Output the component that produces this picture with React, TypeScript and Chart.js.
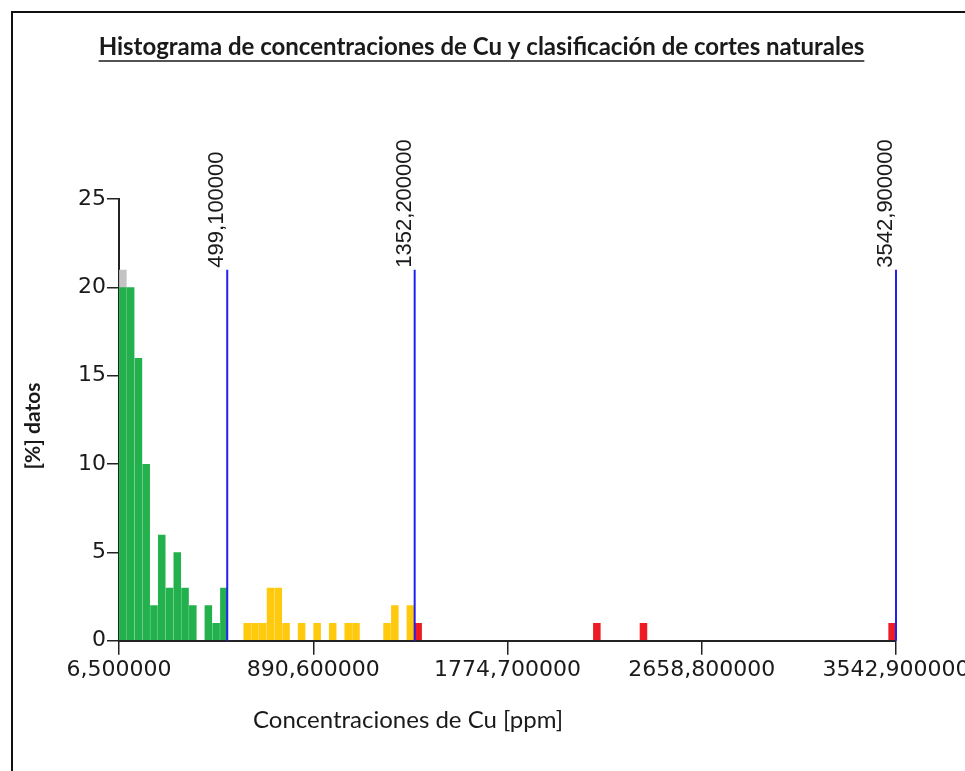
import React, { useEffect, useRef } from "react";
import { Chart, registerables } from "chart.js";

Chart.register(...registerables);

// ---- data ----
const X_MIN = 6.5;
const X_MAX = 3542.9;
const BIN_COUNT = 100;
const xTickValues = [6.5, 890.6, 1774.7, 2658.8, 3542.9];
const yTickValues = [0, 5, 10, 15, 20, 25];
const breakValues = [499.1, 1352.2, 3542.9];
const breakLabels = ["499,100000", "1352,200000", "3542,900000"];

// bin index -> % datos, per natural-break class
const greyBins = [0];
const greyPct = [21];
const greenBins = [0, 1, 2, 3, 4, 5, 6, 7, 8, 9, 11, 12, 13];
const greenPct = [20, 20, 16, 10, 2, 6, 3, 5, 3, 2, 2, 1, 3];
const yellowBins = [16, 17, 18, 19, 20, 21, 23, 25, 27, 29, 30, 34, 35, 37];
const yellowPct = [1, 1, 1, 3, 3, 1, 1, 1, 1, 1, 1, 1, 2, 2];
const redBins = [38, 61, 67, 99];
const redPct = [1, 1, 1, 1];

const TITLE = "Histograma de concentraciones de Cu y clasificación de cortes naturales";
const X_TITLE = "Concentraciones de Cu [ppm]";
const Y_TITLE = "[%] datos";

const BIN_W = (X_MAX - X_MIN) / BIN_COUNT;
const toPoints = (bins: number[], pct: number[]) =>
  bins.map((b, i) => ({ x: X_MIN + (b + 0.5) * BIN_W, y: pct[i] }));
const fmt = (v: number) => v.toFixed(6).replace(".", ",");

const LINE_TOP = Math.max(...greyPct);

const textPlugin = {
  id: "texts",
  afterDraw(chart: any) {
    const ctx = chart.ctx;
    const xs = chart.scales.x;
    const ys = chart.scales.y;
    ctx.save();
    // title
    ctx.fillStyle = "#1a1a1a";
    ctx.font = "bold 24px Lato";
    ctx.textAlign = "center";
    ctx.textBaseline = "alphabetic";
    const tx = 481.5;
    const ty = 55;
    ctx.fillText(TITLE, tx, ty);
    const w = ctx.measureText(TITLE).width;
    ctx.strokeStyle = "#1a1a1a";
    ctx.lineWidth = 1.5;
    ctx.beginPath();
    ctx.moveTo(tx - w / 2, ty + 6);
    ctx.lineTo(tx + w / 2, ty + 6);
    ctx.stroke();
    // x title
    ctx.font = "24px Lato";
    ctx.textBaseline = "middle";
    ctx.fillText(X_TITLE, 408, 720);
    // y title
    ctx.save();
    ctx.translate(33, 426);
    ctx.rotate(-Math.PI / 2);
    ctx.font = "bold 21px Lato";
    ctx.fillText(Y_TITLE, 0, 0);
    ctx.restore();
    // break labels
    ctx.font = "22px 'Liberation Sans'";
    ctx.textAlign = "left";
    ctx.textBaseline = "alphabetic";
    breakValues.forEach((v, i) => {
      const px = xs.getPixelForValue(v);
      const py = ys.getPixelForValue(LINE_TOP);
      ctx.save();
      ctx.translate(px - 4, py - 2);
      ctx.rotate(-Math.PI / 2);
      ctx.fillText(breakLabels[i], 0, 0);
      ctx.restore();
    });
    ctx.restore();
  },
};

export default function App() {
  const ref = useRef<HTMLCanvasElement | null>(null);
  useEffect(() => {
    if (!ref.current) return;
    const barCommon = {
      type: "bar" as const,
      grouped: false,
      barPercentage: 1,
      categoryPercentage: 0.97,
      borderWidth: 0,
    };
    const lineSets = breakValues.map((v) => ({
      type: "line" as const,
      data: [
        { x: v, y: 0 },
        { x: v, y: LINE_TOP },
      ],
      borderColor: "#2020f0",
      borderWidth: 2,
      pointRadius: 0,
      fill: false,
      clip: false,
      order: 0,
    }));
    const chart = new Chart(ref.current, {
      type: "bar",
      data: {
        datasets: [
          { ...barCommon, data: toPoints(greyBins, greyPct), backgroundColor: "#c3c3c3", order: 3 },
          { ...barCommon, data: toPoints(greenBins, greenPct), backgroundColor: "#22b14c", order: 2 },
          { ...barCommon, data: toPoints(yellowBins, yellowPct), backgroundColor: "#ffc90e", order: 2 },
          { ...barCommon, data: toPoints(redBins, redPct), backgroundColor: "#ed1c24", order: 2 },
          ...lineSets,
        ] as any,
      },
      options: {
        animation: false,
        responsive: false,
        maintainAspectRatio: false,
        layout: { padding: { top: 199, right: 69, left: 0, bottom: 0 } },
        plugins: { legend: { display: false }, tooltip: { enabled: false }, title: { display: false } },
        scales: {
          x: {
            type: "linear",
            min: X_MIN,
            max: X_MAX,
            offset: false,
            grid: { display: true, drawOnChartArea: false, drawTicks: true, tickLength: 14, color: "#222", lineWidth: 1.5, offset: false },
            border: { display: true, color: "#222", width: 2 },
            afterBuildTicks: (s: any) => {
              s.ticks = xTickValues.map((v) => ({ value: v }));
            },
            afterFit: (s: any) => {
              s.height = 771 - 640.7;
              s.paddingLeft = 0;
              s.paddingRight = 0;
            },
            ticks: {
              autoSkip: false,
              maxRotation: 0,
              padding: 2,
              color: "#1a1a1a",
              font: { family: "'DejaVu Sans'", size: 22 },
              callback: (v: any) => fmt(Number(v)),
            },
          },
          y: {
            type: "linear",
            min: 0,
            max: 25,
            grid: { display: true, drawOnChartArea: false, drawTicks: true, tickLength: 12, color: "#222", lineWidth: 1.5 },
            border: { display: true, color: "#222", width: 2 },
            afterBuildTicks: (s: any) => {
              s.ticks = yTickValues.map((v) => ({ value: v }));
            },
            afterFit: (s: any) => {
              s.width = 119;
            },
            ticks: {
              padding: 1,
              color: "#1a1a1a",
              font: { family: "'DejaVu Sans'", size: 22 },
            },
          },
        },
      },
      plugins: [textPlugin],
    } as any);
    return () => chart.destroy();
  }, []);
  return (
    <div style={{ position: "fixed", left: 0, top: 0, width: 965, height: 771, background: "#fff", overflow: "hidden" }}>
      <div
        style={{
          position: "absolute",
          left: 11,
          top: 11,
          width: 1000,
          height: 800,
          border: "2px solid #111",
        }}
      />
      <canvas ref={ref} width={965} height={771} style={{ position: "absolute", left: 0, top: 0, width: 965, height: 771 }} />
    </div>
  );
}
